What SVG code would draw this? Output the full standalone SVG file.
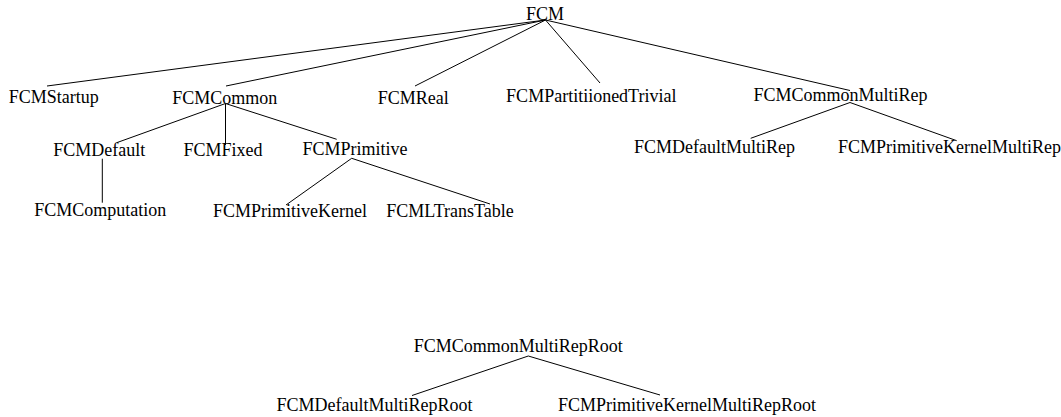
<svg xmlns="http://www.w3.org/2000/svg" width="1061" height="417" viewBox="0 0 1061 417">
<style>
text{font-family:"Liberation Serif","Times New Roman",serif;font-size:18px;fill:#000;text-anchor:middle}
.c line{stroke:#000;stroke-width:1;fill:none}
</style>
<rect width="1061" height="417" fill="#fff"/>
<g id="connectors" class="c">
<line x1="545.5" y1="20" x2="47" y2="86"/>
<line x1="545.5" y1="20" x2="226" y2="86"/>
<line x1="545.5" y1="20" x2="415" y2="86"/>
<line x1="545.5" y1="20" x2="600" y2="83"/>
<line x1="545.5" y1="20" x2="850" y2="90.5"/>
<line x1="225.5" y1="103.5" x2="116.7" y2="142.7"/>
<line x1="225.5" y1="103.5" x2="225.5" y2="145"/>
<line x1="225.5" y1="103.5" x2="336.7" y2="139.3"/>
<line x1="102.3" y1="158.7" x2="102.3" y2="202.7"/>
<line x1="351.7" y1="158.3" x2="286" y2="205"/>
<line x1="351.7" y1="158.3" x2="490" y2="204"/>
<line x1="850" y1="102.5" x2="750.7" y2="138.3"/>
<line x1="850" y1="102.5" x2="956.7" y2="140.7"/>
<line x1="528.3" y1="356" x2="412" y2="395.5"/>
<line x1="528.3" y1="356" x2="660" y2="395"/>
</g>
<g id="FCM"><text x="545" y="19.5">FCM</text></g>
<g id="FCMStartup"><text x="53.8" y="102.5">FCMStartup</text></g>
<g id="FCMCommon"><text x="224.7" y="104">FCMCommon</text></g>
<g id="FCMReal"><text x="413.3" y="103.5">FCMReal</text></g>
<g id="FCMPartitiionedTrivial"><text x="591.3" y="102">FCMPartitiionedTrivial</text></g>
<g id="FCMCommonMultiRep"><text x="840.5" y="101">FCMCommonMultiRep</text></g>
<g id="FCMDefault"><text x="99.2" y="156">FCMDefault</text></g>
<g id="FCMFixed"><text x="223" y="155.5">FCMFixed</text></g>
<g id="FCMPrimitive"><text x="355" y="154.5">FCMPrimitive</text></g>
<g id="FCMDefaultMultiRep"><text x="714.5" y="152.7">FCMDefaultMultiRep</text></g>
<g id="FCMPrimitiveKernelMultiRep"><text x="949.5" y="152.7">FCMPrimitiveKernelMultiRep</text></g>
<g id="FCMComputation"><text x="100.3" y="216">FCMComputation</text></g>
<g id="FCMPrimitiveKernel"><text x="290" y="216.7">FCMPrimitiveKernel</text></g>
<g id="FCMLTransTable"><text x="450" y="216.7">FCMLTransTable</text></g>
<g id="FCMCommonMultiRepRoot"><text x="518.3" y="351.7">FCMCommonMultiRepRoot</text></g>
<g id="FCMDefaultMultiRepRoot"><text x="374.5" y="410.7">FCMDefaultMultiRepRoot</text></g>
<g id="FCMPrimitiveKernelMultiRepRoot"><text x="687" y="410.7">FCMPrimitiveKernelMultiRepRoot</text></g>
</svg>
